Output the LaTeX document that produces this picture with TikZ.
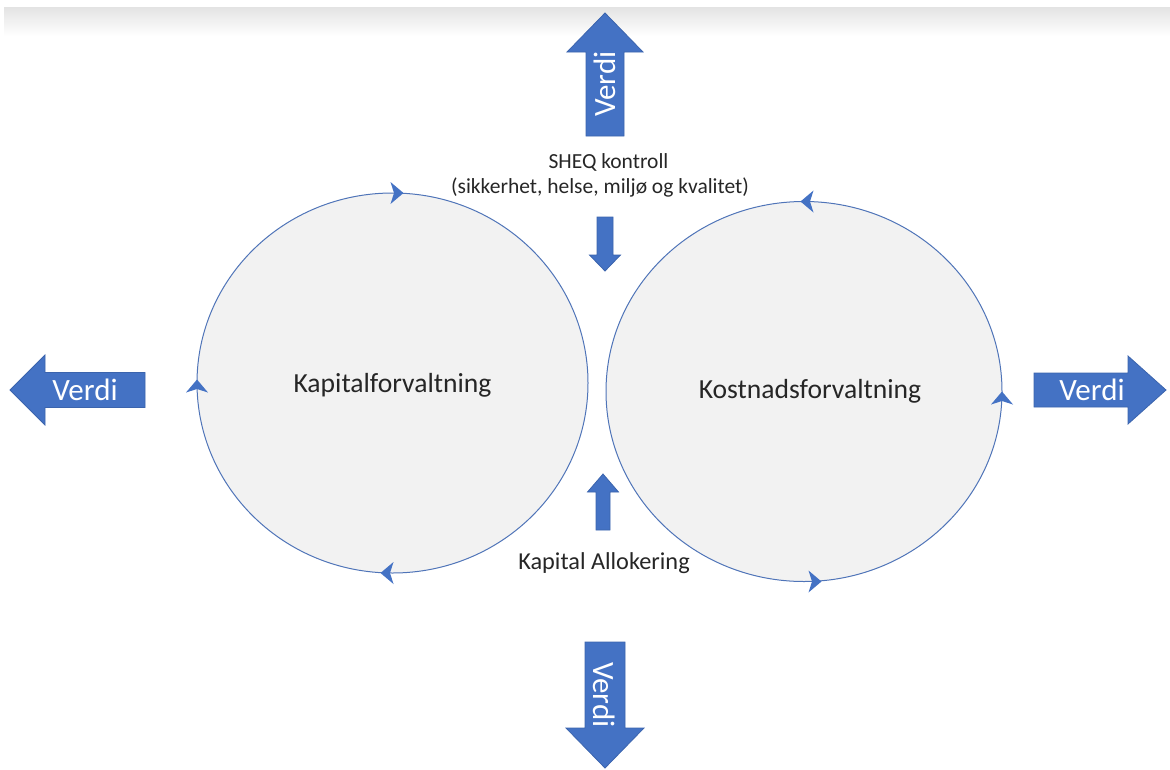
\documentclass[tikz,border=0pt]{standalone}
\usepackage{fontspec}
\setmainfont{Carlito}
\usetikzlibrary{shapes.geometric}

\definecolor{arrowblue}{HTML}{4472C4}
\definecolor{arrowedge}{HTML}{3B64AD}
\definecolor{ringline}{HTML}{4F74B8}
\definecolor{ringfill}{HTML}{F2F2F2}
\definecolor{inktext}{HTML}{262626}

\tikzset{
  % block arrow pointing along +x, tip at the origin: length / shaft / head width / head length
  pics/blockarrow/.style n args={4}{code={
    \filldraw[fill=arrowblue, draw=arrowedge, line width=0.8pt]
      (0,0) -- (-#4,#3/2) -- (-#4,#2/2) -- (-#1,#2/2) -- (-#1,-#2/2)
      -- (-#4,-#2/2) -- (-#4,-#3/2) -- cycle;
  }},
  % small arrowhead sitting on a cycle ring
  pics/cyctip/.style={code={
    \fill[arrowblue] (6.5,0) -- (-6.5,11) -- (-3,0) -- (-6.5,-11) -- cycle;
  }},
  ring/.style={ellipse, draw=ringline, fill=ringfill, line width=1pt, inner sep=0pt},
  ringlabel/.style={text=inktext, font=\fontsize{27.6}{32}\selectfont},
  notelabel/.style={text=inktext, align=center},
  verdilabel/.style={text=white, font=\fontsize{31}{36}\selectfont, inner sep=0pt},
}

\begin{document}
\begin{tikzpicture}[x=1pt, y=1pt]
\useasboundingbox (0,0) rectangle (1170,-769);

% soft grey band along the top edge
\shade[top color=black!11, bottom color=white] (4,-7) rectangle (1170,-36);

% the two cycles
\node[ring, minimum width=391, minimum height=380] (kapring) at (392.5,-383) {};
\node[ring, minimum width=396, minimum height=380] (kostring) at (804,-391.5) {};
\node[ringlabel] (kaptext) at (392.5,-385) {Kapitalforvaltning};
\node[ringlabel] (kosttext) at (810,-391) {Kostnadsforvaltning};

% direction of travel on the left cycle (clockwise)
\pic at (397,-193) {cyctip};
\pic[rotate=90] at (197,-386) {cyctip};
\pic[rotate=180] at (387,-573) {cyctip};

% direction of travel on the right cycle (counter-clockwise)
\pic[rotate=180] at (807,-201.5) {cyctip};
\pic[rotate=90] at (1002,-398) {cyctip};
\pic at (815,-581.5) {cyctip};

% value leaving the system in four directions
\pic[rotate=90]  at (605,-13)  {blockarrow={123}{38}{76}{39}};
\pic[rotate=-90] at (605,-768) {blockarrow={126}{40}{78}{40}};
\pic[rotate=180] at (10,-390)  {blockarrow={135}{35}{70}{35}};
\pic             at (1166,-390) {blockarrow={132}{34}{68}{38}};
\node[verdilabel, rotate=90]  (verdiup)    at (605,-84)  {Verdi};
\node[verdilabel, rotate=-90] (verdidown)  at (604,-695) {Verdi};
\node[verdilabel]             (verdileft)  at (85,-390)  {Verdi};
\node[verdilabel]             (verdiright) at (1092,-390) {Verdi};

% inputs between the cycles
\node[notelabel, font=\fontsize{21.5}{25}\selectfont] (sheq) at (608.5,-162) {SHEQ kontroll};
\node[notelabel, font=\fontsize{21.5}{25}\selectfont] (sheqsub) at (600,-187)
  {(sikkerhet, helse, miljø og kvalitet)};
\pic[rotate=-90] at (605,-271) {blockarrow={54}{16}{31}{16}};
\pic[rotate=90]  at (603,-474) {blockarrow={56}{14}{31}{18}};
\node[notelabel, font=\fontsize{24.3}{28}\selectfont] (alloc) at (604,-563) {Kapital Allokering};
\end{tikzpicture}
\end{document}
